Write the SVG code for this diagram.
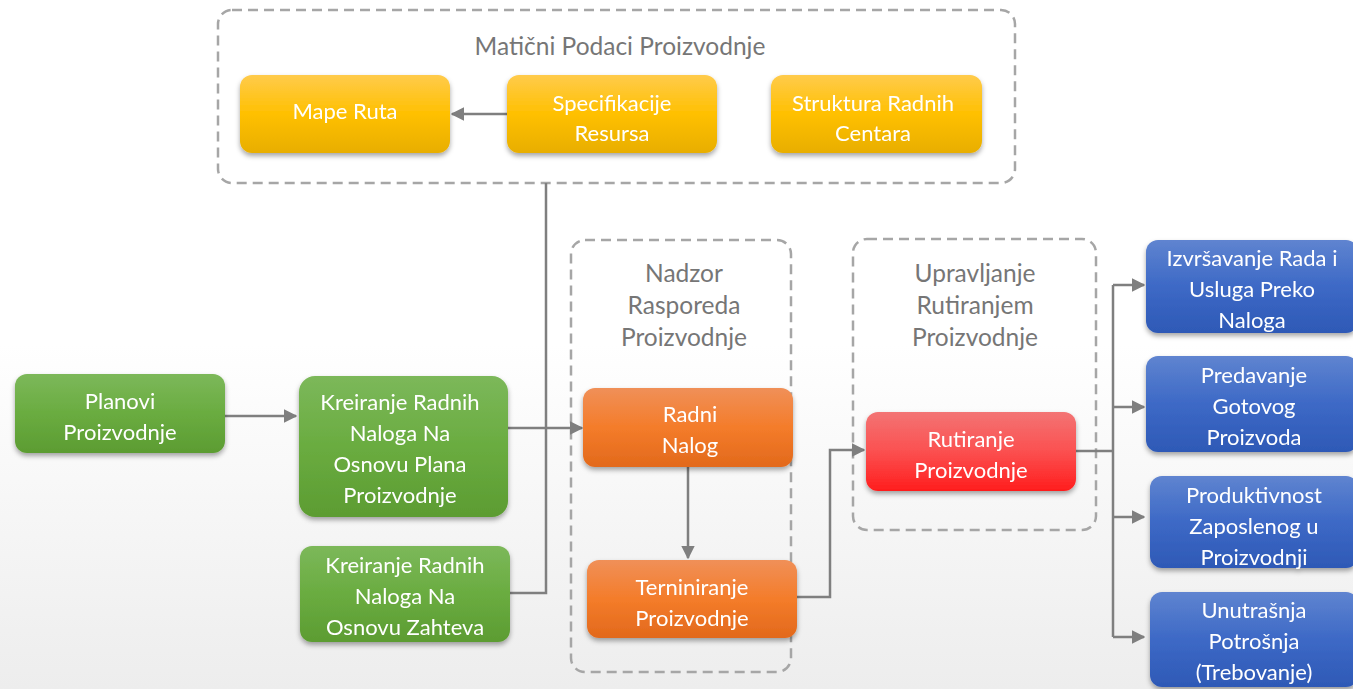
<svg xmlns="http://www.w3.org/2000/svg" width="1353" height="689" viewBox="0 0 1353 689">
<defs>
<style>
.t{font-family:Lato,"Open Sans","Liberation Sans",sans-serif;font-size:22px;fill:#fff;text-anchor:middle}
.h{font-family:Lato,"Open Sans","Liberation Sans",sans-serif;font-size:24.5px;fill:#767676;text-anchor:middle}
.grp{fill:none;stroke:#a6a6a6;stroke-width:2.5;stroke-dasharray:10 6}
.c{fill:none;stroke:#7f7f7f;stroke-width:2.5}
.y{fill:url(#gy)}.g{fill:url(#gg)}.o{fill:url(#go)}.r{fill:url(#gr)}.b{fill:url(#gb)}
</style>
<linearGradient id="bg" x1="0" y1="0" x2="0" y2="1"><stop offset="0.5" stop-color="#ffffff"/><stop offset="1" stop-color="#ededed"/></linearGradient>
<linearGradient id="gy" x1="0" y1="0" x2="0" y2="1"><stop offset="0" stop-color="#ffcb4c"/><stop offset="0.5" stop-color="#ffc000"/><stop offset="1" stop-color="#e8ae00"/></linearGradient>
<linearGradient id="gg" x1="0" y1="0" x2="0" y2="1"><stop offset="0" stop-color="#7cb85a"/><stop offset="0.5" stop-color="#6aac40"/><stop offset="1" stop-color="#5c9c32"/></linearGradient>
<linearGradient id="go" x1="0" y1="0" x2="0" y2="1"><stop offset="0" stop-color="#f09058"/><stop offset="0.5" stop-color="#f47c2a"/><stop offset="1" stop-color="#e2691c"/></linearGradient>
<linearGradient id="gr" x1="0" y1="0" x2="0" y2="1"><stop offset="0" stop-color="#f37474"/><stop offset="0.5" stop-color="#fb5050"/><stop offset="1" stop-color="#ff1d1d"/></linearGradient>
<linearGradient id="gb" x1="0" y1="0" x2="0" y2="1"><stop offset="0" stop-color="#5f84d0"/><stop offset="0.5" stop-color="#3d69c6"/><stop offset="1" stop-color="#2e59b6"/></linearGradient>
<filter id="sh" x="-10%" y="-10%" width="120%" height="130%"><feDropShadow dx="0" dy="3" stdDeviation="2.5" flood-color="#000" flood-opacity="0.35"/></filter>
<marker id="ar" viewBox="0 0 10 10" refX="9" refY="5" markerWidth="5.5" markerHeight="5.5" orient="auto" markerUnits="strokeWidth"><path d="M0,0L10,5L0,10z" fill="#7f7f7f"/></marker>
</defs>
<rect width="1353" height="689" fill="url(#bg)"/>

<g id="grp-maticni">
<rect class="grp" x="218" y="10" width="797" height="173" rx="14"/>
<text class="h" x="620" y="55">Matični Podaci Proizvodnje</text>
</g>
<g id="grp-nadzor">
<rect class="grp" x="571" y="240" width="220" height="432" rx="14"/>
<text class="h" x="684" y="282">Nadzor</text>
<text class="h" x="684" y="314">Rasporeda</text>
<text class="h" x="684" y="346">Proizvodnje</text>
</g>
<g id="grp-upravljanje">
<rect class="grp" x="853" y="239" width="243" height="291" rx="14"/>
<text class="h" x="975" y="282">Upravljanje</text>
<text class="h" x="975" y="314">Rutiranjem</text>
<text class="h" x="975" y="346">Proizvodnje</text>
</g>

<g id="connectors">
<path class="c" d="M507,114H452" marker-end="url(#ar)"/>
<path class="c" d="M225,416H296" marker-end="url(#ar)"/>
<path class="c" d="M546,183V593H510"/>
<path class="c" d="M508,428H582" marker-end="url(#ar)"/>
<path class="c" d="M688,467V558" marker-end="url(#ar)"/>
<path class="c" d="M797,597H830V450H864" marker-end="url(#ar)"/>
<path class="c" d="M1076,451H1113"/>
<path class="c" d="M1113,285V637"/>
<path class="c" d="M1113,285H1144" marker-end="url(#ar)"/>
<path class="c" d="M1113,407H1144" marker-end="url(#ar)"/>
<path class="c" d="M1113,517H1144" marker-end="url(#ar)"/>
<path class="c" d="M1113,637H1144" marker-end="url(#ar)"/>
</g>

<g id="mape-ruta" filter="url(#sh)"><rect class="y" x="240" y="75" width="210" height="78" rx="12"/><text class="t" x="345" y="119">Mape Ruta</text></g>
<g id="specifikacije" filter="url(#sh)"><rect class="y" x="507" y="75" width="210" height="78" rx="12"/><text class="t" x="612" y="111">Specifikacije</text><text class="t" x="612" y="141">Resursa</text></g>
<g id="struktura" filter="url(#sh)"><rect class="y" x="771" y="75" width="211" height="78" rx="12"/><text class="t" x="873" y="111">Struktura Radnih</text><text class="t" x="873" y="141">Centara</text></g>

<g id="planovi" filter="url(#sh)"><rect class="g" x="15" y="374" width="210" height="79" rx="12"/><text class="t" x="120" y="409">Planovi</text><text class="t" x="120" y="440">Proizvodnje</text></g>
<g id="kreiranje-plan" filter="url(#sh)"><rect class="g" x="299" y="376" width="209" height="141" rx="16"/><text class="t" x="400" y="410">Kreiranje Radnih</text><text class="t" x="400" y="441">Naloga Na</text><text class="t" x="400" y="472">Osnovu Plana</text><text class="t" x="400" y="503">Proizvodnje</text></g>
<g id="kreiranje-zahtev" filter="url(#sh)"><rect class="g" x="300" y="546" width="210" height="96" rx="12"/><text class="t" x="405" y="573">Kreiranje Radnih</text><text class="t" x="405" y="604">Naloga Na</text><text class="t" x="405" y="635">Osnovu Zahteva</text></g>

<g id="radni-nalog" filter="url(#sh)"><rect class="o" x="583" y="388" width="210" height="79" rx="12"/><text class="t" x="690" y="422">Radni</text><text class="t" x="690" y="453">Nalog</text></g>
<g id="terniniranje" filter="url(#sh)"><rect class="o" x="587" y="560" width="210" height="78" rx="12"/><text class="t" x="692" y="595">Terniniranje</text><text class="t" x="692" y="626">Proizvodnje</text></g>

<g id="rutiranje" filter="url(#sh)"><rect class="r" x="866" y="412" width="210" height="79" rx="12"/><text class="t" x="971" y="447">Rutiranje</text><text class="t" x="971" y="478">Proizvodnje</text></g>

<g id="izvrsavanje" filter="url(#sh)"><rect class="b" x="1146" y="240" width="212" height="93" rx="12"/><text class="t" x="1252" y="266">Izvršavanje Rada i</text><text class="t" x="1252" y="297">Usluga Preko</text><text class="t" x="1252" y="328">Naloga</text></g>
<g id="predavanje" filter="url(#sh)"><rect class="b" x="1146" y="356" width="212" height="96" rx="12"/><text class="t" x="1254" y="383">Predavanje</text><text class="t" x="1254" y="414">Gotovog</text><text class="t" x="1254" y="445">Proizvoda</text></g>
<g id="produktivnost" filter="url(#sh)"><rect class="b" x="1150" y="476" width="208" height="92" rx="12"/><text class="t" x="1254" y="503">Produktivnost</text><text class="t" x="1254" y="534">Zaposlenog u</text><text class="t" x="1254" y="565">Proizvodnji</text></g>
<g id="unutrasnja" filter="url(#sh)"><rect class="b" x="1150" y="592" width="208" height="95" rx="12"/><text class="t" x="1254" y="618">Unutrašnja</text><text class="t" x="1254" y="649">Potrošnja</text><text class="t" x="1254" y="680">(Trebovanje)</text></g>
</svg>
